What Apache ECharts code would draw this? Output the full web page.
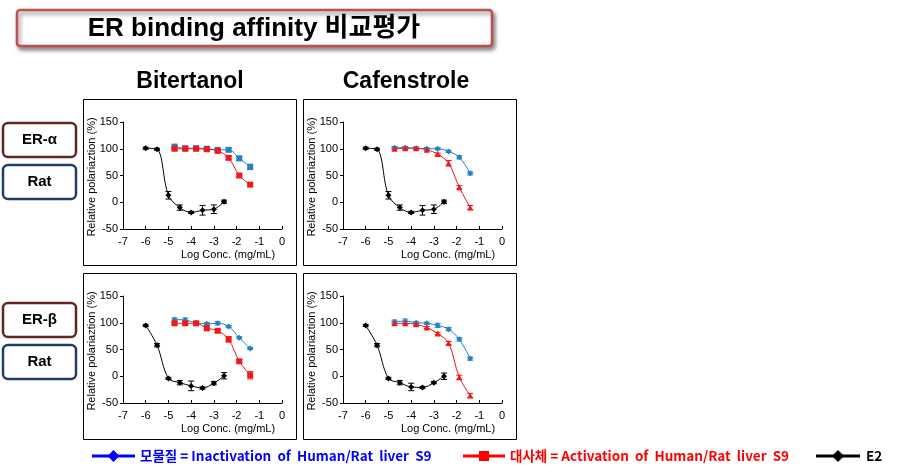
<!DOCTYPE html>
<html>
<head>
<meta charset="utf-8">
<script src="https://cdn.jsdelivr.net/npm/echarts@6/dist/echarts.min.js"></script>
<style>
html,body{margin:0;padding:0;background:#fff;}
#chart{width:910px;height:472px;}
</style>
</head>
<body>
<div id="chart"></div>
<script>
// ---- data ----
const xE2 = [-6, -5.5, -5, -4.5, -4, -3.5, -3, -2.55];
const xS9 = [-4.73, -4.26, -3.78, -3.31, -2.83, -2.35, -1.88, -1.4];
const xTicks = ['-7', '-6', '-5', '-4', '-3', '-2', '-1', '0'];
const yTicks = ['-50', '0', '50', '100', '150'];
const compounds = ['Bitertanol', 'Cafenstrole'];
const receptors = ['ER-α', 'ER-β'];
const species = ['Rat', 'Rat'];
const seriesNames = ['모물질 = Inactivation  of  Human/Rat  liver  S9', '대사체 = Activation  of  Human/Rat  liver  S9', 'E2'];

// E2 (panels 1-4)
const e2Alpha = [101, 99, 13, -10, -19, -15, -13, 1];
const e2AlphaErr = [2, 2, 7, 5, 2, 9, 8, 3];
const e2Beta = [95, 58, -4, -12, -18, -22, -13, 1];
const e2BetaErr = [2, 3, 2, 4, 9, 2, 3, 6];
const e2Beta2 = [95, 58, -4, -12, -20, -21, -12, 0];
const e2Beta2Err = [2, 3, 2, 4, 7, 2, 2, 6];

// Bitertanol ER-alpha
const bitAlphaInact = [104, 101, 101, 100, 98, 98, 82, 66];
const bitAlphaInactErr = [3, 2, 2, 2, 2, 3, 4, 5];
const bitAlphaAct = [100, 100, 100, 99, 96, 83, 50, 33];
const bitAlphaActErr = [3, 2, 2, 2, 2, 3, 3, 3];
// Cafenstrole ER-alpha
const cafAlphaInact = [102, 102, 101, 100, 100, 95, 84, 54];
const cafAlphaInactErr = [2, 2, 2, 2, 2, 2, 3, 3];
const cafAlphaAct = [100, 101, 101, 98, 90, 73, 28, -10];
const cafAlphaActErr = [2, 2, 2, 2, 2, 5, 3, 4];
// Bitertanol ER-beta
const bitBetaInact = [106, 105, 100, 98, 99, 93, 72, 52];
const bitBetaInactErr = [3, 4, 2, 2, 3, 2, 2, 2];
const bitBetaAct = [99, 99, 99, 90, 85, 69, 28, 2];
const bitBetaActErr = [3, 3, 2, 5, 3, 5, 3, 7];
// Cafenstrole ER-beta
const cafBetaInact = [102, 103, 100, 99, 95, 88, 69, 33];
const cafBetaInactErr = [3, 4, 2, 2, 4, 3, 3, 3];
const cafBetaAct = [99, 99, 97, 91, 80, 62, -2, -36];
const cafBetaActErr = [3, 3, 2, 2, 2, 3, 4, 4];

// ---- layout ----
const BLUE = '#2382C6', RED = '#F01818', BLACK = '#000000';
const panels = [
  {box: [83, 99], grid: [123, 122], e2: e2Alpha, e2Err: e2AlphaErr, inact: bitAlphaInact, inactErr: bitAlphaInactErr, act: bitAlphaAct, actErr: bitAlphaActErr, symB: 'rect', symR: 'rect'},
  {box: [303, 99], grid: [343, 122], e2: e2Alpha, e2Err: e2AlphaErr, inact: cafAlphaInact, inactErr: cafAlphaInactErr, act: cafAlphaAct, actErr: cafAlphaActErr, symB: 'diamond', symR: 'triangle'},
  {box: [83, 273], grid: [123, 296], e2: e2Beta, e2Err: e2BetaErr, inact: bitBetaInact, inactErr: bitBetaInactErr, act: bitBetaAct, actErr: bitBetaActErr, symB: 'diamond', symR: 'rect'},
  {box: [303, 273], grid: [343, 296], e2: e2Beta2, e2Err: e2Beta2Err, inact: cafBetaInact, inactErr: cafBetaInactErr, act: cafBetaAct, actErr: cafBetaActErr, symB: 'diamond', symR: 'triangle'}
];
const GW = 159, GH = 107;
const FONT = '"Liberation Sans", Arial, sans-serif';

const grids = [], xAxes = [], yAxes = [], series = [], graphics = [];

function errSeries(idx, xs, ys, errs, color) {
  return {
    type: 'custom', xAxisIndex: idx, yAxisIndex: idx, silent: true, z: 3,
    data: xs.map((x, i) => [x, ys[i], errs[i]]),
    renderItem: function (params, api) {
      const x = api.value(0), y = api.value(1), e = api.value(2);
      const top = api.coord([x, y + e]);
      const bot = api.coord([x, y - e]);
      const w = 3;
      const st = {stroke: color, lineWidth: 1};
      return {type: 'group', children: [
        {type: 'line', shape: {x1: top[0], y1: top[1], x2: bot[0], y2: bot[1]}, style: st},
        {type: 'line', shape: {x1: top[0] - w, y1: top[1], x2: top[0] + w, y2: top[1]}, style: st},
        {type: 'line', shape: {x1: bot[0] - w, y1: bot[1], x2: bot[0] + w, y2: bot[1]}, style: st}
      ]};
    }
  };
}
function lineSeries(idx, name, xs, ys, color, sym, size) {
  return {
    type: 'line', name: name, xAxisIndex: idx, yAxisIndex: idx, z: 4,
    data: xs.map((x, i) => [x, ys[i]]),
    smooth: 0.35, symbol: sym, symbolSize: size, showSymbol: true,
    lineStyle: {color: color, width: 1},
    itemStyle: {color: color},
    emphasis: {disabled: true}
  };
}

panels.forEach((p, idx) => {
  grids.push({left: p.grid[0], top: p.grid[1], width: GW, height: GH, containLabel: false});
  xAxes.push({
    type: 'value', gridIndex: idx, min: -7, max: 0, interval: 1,
    axisLine: {onZero: false, lineStyle: {color: '#000', width: 1}},
    axisTick: {inside: true, length: 3, lineStyle: {color: '#000'}},
    axisLabel: {fontSize: 11, color: '#000', margin: 7, fontFamily: FONT,
      formatter: v => xTicks[Math.round(v) + 7]},
    splitLine: {show: false}
  });
  yAxes.push({
    type: 'value', gridIndex: idx, min: -50, max: 150, interval: 50,
    axisLine: {show: true, onZero: false, lineStyle: {color: '#000', width: 1}},
    axisTick: {show: true, inside: false, length: 3, lineStyle: {color: '#000'}},
    axisLabel: {fontSize: 11, color: '#000', margin: 5, fontFamily: FONT,
      formatter: v => yTicks[Math.round((v + 50) / 50)]},
    splitLine: {show: false}
  });
  series.push(errSeries(idx, xE2, p.e2, p.e2Err, BLACK));
  series.push(errSeries(idx, xS9, p.inact, p.inactErr, BLUE));
  series.push(errSeries(idx, xS9, p.act, p.actErr, RED));
  series.push(lineSeries(idx, seriesNames[2], xE2, p.e2, BLACK, 'diamond', 6));
  series.push(lineSeries(idx, seriesNames[0], xS9, p.inact, BLUE, p.symB, 6));
  series.push(lineSeries(idx, seriesNames[1], xS9, p.act, RED, p.symR, 6));

  // panel frame
  graphics.push({type: 'rect', shape: {x: p.box[0] + 0.5, y: p.box[1] + 0.5, width: 213, height: 166},
    style: {fill: 'none', stroke: '#000', lineWidth: 1}, z: 1});
  // axis names
  graphics.push({type: 'text', x: p.box[0] + 9, y: p.box[1] + 78, rotation: Math.PI / 2,
    style: {text: 'Relative polariaztion (%)', font: '11px ' + FONT, fill: '#000', align: 'center', verticalAlign: 'middle'}});
  graphics.push({type: 'text', x: p.box[0] + 145, y: p.box[1] + 156,
    style: {text: 'Log Conc. (mg/mL)', font: '11px ' + FONT, fill: '#000', align: 'center', verticalAlign: 'middle'}});
});

// title
graphics.push({type: 'rect', shape: {x: 17, y: 10, width: 475, height: 36, r: 3},
  style: {fill: '#fff', stroke: '#C0504D', lineWidth: 2.5, shadowBlur: 4, shadowOffsetX: 2, shadowOffsetY: 3, shadowColor: 'rgba(0,0,0,0.45)'}});
graphics.push({type: 'text', x: 254, y: 29,
  style: {text: 'ER binding affinity 비교평가', font: 'bold 26px "Liberation Sans", "Noto Sans CJK KR", sans-serif', fill: '#000', align: 'center', verticalAlign: 'middle'}});
// compound headings
graphics.push({type: 'text', x: 190, y: 82, style: {text: compounds[0], font: 'bold 23px ' + FONT, fill: '#000', align: 'center', verticalAlign: 'middle'}});
graphics.push({type: 'text', x: 406, y: 82, style: {text: compounds[1], font: 'bold 23px ' + FONT, fill: '#000', align: 'center', verticalAlign: 'middle'}});

// left label boxes
[[123, 165], [303, 345]].forEach((ys, r) => {
  graphics.push({type: 'rect', shape: {x: 3, y: ys[0], width: 73, height: 34, r: 5},
    style: {fill: '#fff', stroke: '#632523', lineWidth: 2.5}});
  graphics.push({type: 'text', x: 39.5, y: ys[0] + 17, style: {text: receptors[r], font: 'bold 15px ' + FONT, fill: '#000', align: 'center', verticalAlign: 'middle'}});
  graphics.push({type: 'rect', shape: {x: 3, y: ys[1], width: 73, height: 34, r: 5},
    style: {fill: '#fff', stroke: '#1F3D66', lineWidth: 2.5}});
  graphics.push({type: 'text', x: 39.5, y: ys[1] + 17, style: {text: species[r], font: 'bold 15px ' + FONT, fill: '#000', align: 'center', verticalAlign: 'middle'}});
});

// legend
const LY = 456;
const legendItems = [
  {x1: 92, x2: 135, color: '#0000FF', sym: 'diamond', tx: 140, text: seriesNames[0]},
  {x1: 463, x2: 505, color: '#FF0000', sym: 'rect', tx: 510, text: seriesNames[1]},
  {x1: 816, x2: 860, color: '#000000', sym: 'diamond', tx: 866, text: seriesNames[2]}
];
legendItems.forEach(it => {
  graphics.push({type: 'line', shape: {x1: it.x1, y1: LY, x2: it.x2, y2: LY}, style: {stroke: it.color, lineWidth: 3}});
  const cx = (it.x1 + it.x2) / 2;
  if (it.sym === 'rect') {
    graphics.push({type: 'rect', shape: {x: cx - 5, y: LY - 5, width: 10, height: 10}, style: {fill: it.color}});
  } else {
    graphics.push({type: 'polygon', shape: {points: [[cx, LY - 6], [cx + 6, LY], [cx, LY + 6], [cx - 6, LY]]}, style: {fill: it.color}});
  }
  graphics.push({type: 'text', x: it.tx, y: LY, style: {text: it.text, font: 'bold 13.5px "Noto Sans CJK KR", sans-serif', fill: it.color, align: 'left', verticalAlign: 'middle'}});
});

const chart = echarts.init(document.getElementById('chart'), null, {renderer: 'canvas'});
chart.setOption({
  animation: false,
  backgroundColor: '#fff',
  grid: grids, xAxis: xAxes, yAxis: yAxes, series: series,
  graphic: graphics
});
</script>
</body>
</html>
